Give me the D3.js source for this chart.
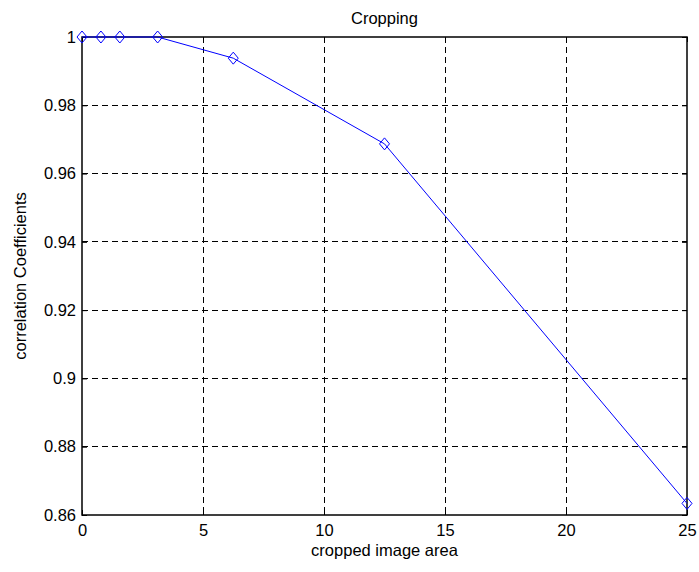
<!DOCTYPE html>
<html>
<head>
<meta charset="utf-8">
<script src="https://cdn.jsdelivr.net/npm/d3@7"></script>
<style>
  body { margin: 0; background: #fff; }
  text { font-family: "Liberation Sans", Arial, sans-serif; fill: #000; }
</style>
</head>
<body>
<div id="chart"></div>
<script>
// cropped image area vs correlation coefficient
const areas = [0, 0.78125, 1.5625, 3.125, 6.25, 12.5, 25];
const coeffs = [1, 1, 1, 1, 0.9938, 0.9687, 0.8634];
const xTicks = [0, 5, 10, 15, 20, 25];
const yTicks = [0.86, 0.88, 0.9, 0.92, 0.94, 0.96, 0.98, 1];

const margin = { top: 37, right: 12, bottom: 57, left: 82 },
  width = 699 - margin.left - margin.right,
  height = 572 - margin.top - margin.bottom;

const fontSize = "16.5px";

const svg = d3.select("#chart")
  .append("svg")
    .attr("width", 699)
    .attr("height", 572)
  .append("g")
    .attr("transform", `translate(${margin.left},${margin.top})`);

const x = d3.scaleLinear().domain([0, 25]).range([0, width]);
const y = d3.scaleLinear().domain([0.86, 1]).range([height, 0]);

// grid
svg.append("g")
  .selectAll("line")
  .data(xTicks.slice(1, -1))
  .enter().append("line")
    .attr("x1", d => x(d)).attr("x2", d => x(d))
    .attr("y1", 0).attr("y2", height)
    .attr("stroke", "#000").attr("stroke-width", 1)
    .attr("stroke-dasharray", "6,4")
    .attr("shape-rendering", "crispEdges");

svg.append("g")
  .selectAll("line")
  .data(yTicks.slice(1, -1))
  .enter().append("line")
    .attr("x1", 0).attr("x2", width)
    .attr("y1", d => y(d)).attr("y2", d => y(d))
    .attr("stroke", "#000").attr("stroke-width", 1)
    .attr("stroke-dasharray", "6,4")
    .attr("shape-rendering", "crispEdges");

// axes with inward ticks
const fmtY = d => d3.format(".2f")(d).replace(/0+$/, "").replace(/\.$/, "");

svg.append("g")
  .attr("transform", `translate(0,${height})`)
  .call(d3.axisBottom(x).tickValues(xTicks).tickSizeInner(-5).tickSizeOuter(0).tickPadding(9));
svg.append("g")
  .call(d3.axisLeft(y).tickValues(yTicks).tickFormat(fmtY).tickSizeInner(-5).tickSizeOuter(0).tickPadding(6));
svg.append("g")
  .call(d3.axisTop(x).tickValues(xTicks).tickFormat("").tickSizeInner(-5).tickSizeOuter(0));
svg.append("g")
  .attr("transform", `translate(${width},0)`)
  .call(d3.axisRight(y).tickValues(yTicks).tickFormat("").tickSizeInner(-5).tickSizeOuter(0));

svg.selectAll(".domain").remove();
svg.selectAll(".tick line").attr("stroke", "#000");
svg.selectAll(".tick text")
  .style("font-size", fontSize)
  .style("font-family", "Liberation Sans, Arial, sans-serif");

// box
svg.append("rect")
  .attr("x", 0).attr("y", 0)
  .attr("width", width).attr("height", height)
  .attr("fill", "none")
  .attr("stroke", "#000")
  .attr("stroke-width", 1.5);

// line
const line = d3.line()
  .x((d, i) => x(areas[i]))
  .y(d => y(d));

svg.append("path")
  .datum(coeffs)
  .attr("d", line)
  .attr("fill", "none")
  .attr("stroke", "#0000ff")
  .attr("stroke-width", 1);

// diamond markers
svg.selectAll("myMarkers")
  .data(coeffs)
  .enter()
  .append("path")
    .attr("d", "M0,-6L5,0L0,6L-5,0Z")
    .attr("transform", (d, i) => `translate(${x(areas[i])},${y(d)})`)
    .attr("fill", "none")
    .attr("stroke", "#0000ff")
    .attr("stroke-width", 1);

// labels
svg.append("text")
  .attr("x", width / 2)
  .attr("y", -13)
  .attr("text-anchor", "middle")
  .style("font-size", fontSize)
  .text("Cropping");

svg.append("text")
  .attr("x", width / 2)
  .attr("y", height + 41)
  .attr("text-anchor", "middle")
  .style("font-size", fontSize)
  .text("cropped image area");

svg.append("text")
  .attr("transform", "rotate(-90)")
  .attr("x", -height / 2)
  .attr("y", -56)
  .attr("text-anchor", "middle")
  .style("font-size", fontSize)
  .text("correlation Coefficients");
</script>
</body>
</html>
